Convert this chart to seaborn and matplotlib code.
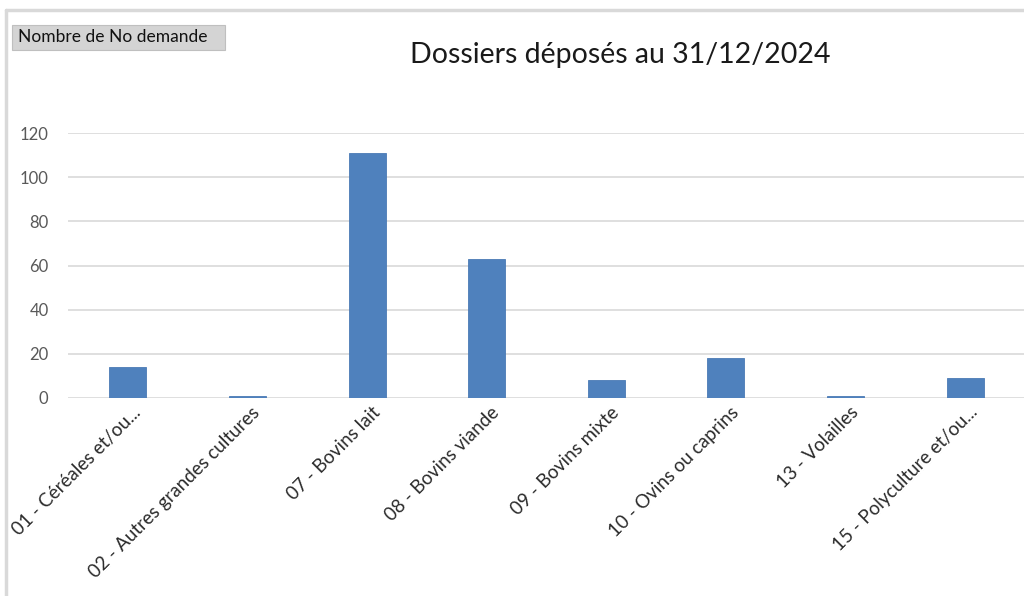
import matplotlib
matplotlib.use("Agg")
import matplotlib.pyplot as plt
import seaborn as sns
import pandas as pd
from matplotlib.patches import Rectangle
from matplotlib.lines import Line2D
from matplotlib.transforms import ScaledTranslation

categories = ["01 - Céréales et/ou...", "02 - Autres grandes cultures", "07 - Bovins lait",
              "08 - Bovins viande", "09 - Bovins mixte", "10 - Ovins ou caprins",
              "13 - Volailles", "15 - Polyculture et/ou..."]
values = [14, 1, 111, 63, 8, 18, 1, 9]
yticks = [0, 20, 40, 60, 80, 100, 120]
title = "Dossiers déposés au 31/12/2024"
field_label = "Nombre de No demande"

sns.set_theme(style="white")
plt.rcParams['font.family'] = ['Lato', 'DejaVu Sans']

W, H = 1024, 596
fig = plt.figure(figsize=(W / 100, H / 100), dpi=100)
ax = fig.add_axes([68 / W, 1 - 398 / H, (1025 - 68) / W, (398 - 133) / H])

df = pd.DataFrame({"cat": categories, "val": values})
sns.barplot(data=df, x="cat", y="val", ax=ax, color="#4f81bd", width=0.31,
            saturation=1, edgecolor="#4a7ab5", linewidth=0.6, zorder=3)

ax.set_xlim(-0.5, 7.5)
ax.set_ylim(0, 120)
ax.set_yticks(yticks)
ax.set_yticklabels([str(v) for v in yticks], fontsize=12, color="#595959")
ax.grid(axis="y", color="#d9d9d9", linewidth=1.2, zorder=0)
ax.set_axisbelow(True)
for s in ax.spines.values():
    s.set_visible(False)
ax.tick_params(axis="both", length=0)
ax.tick_params(axis="y", pad=14)
ax.set_xlabel("")
ax.set_ylabel("")
ax.set_xticks(range(len(categories)))
ax.set_xticklabels(categories, rotation=45, ha="right", rotation_mode="anchor",
                   fontsize=13.5, color="#2b2b2b")
ax.tick_params(axis="x", pad=4)
offset = ScaledTranslation(4 / 100, 0, fig.dpi_scale_trans)
for lbl in ax.get_xticklabels():
    lbl.set_transform(lbl.get_transform() + offset)

fig.text(620 / W, 1 - 55 / H, title, ha="center", va="center", fontsize=20.5, color="#1a1a1a")

# field button
fig.patches.append(Rectangle((12 / W, 1 - 50 / H), 213 / W, 25 / H, transform=fig.transFigure,
                             facecolor="#d4d4d4", edgecolor="#bfbfbf", linewidth=0.8))
fig.text(18 / W, 1 - 37 / H, field_label, ha="left", va="center", fontsize=12.5, color="#111111")

# outer frame lines
fig.lines.append(Line2D([6 / W, 6 / W], [0, 1 - 10 / H], transform=fig.transFigure,
                        color="#d9d9d9", linewidth=2.5))
fig.lines.append(Line2D([6 / W, 1], [1 - 10 / H, 1 - 10 / H], transform=fig.transFigure,
                        color="#d9d9d9", linewidth=2.5))

fig.savefig("out.png", dpi=100)
